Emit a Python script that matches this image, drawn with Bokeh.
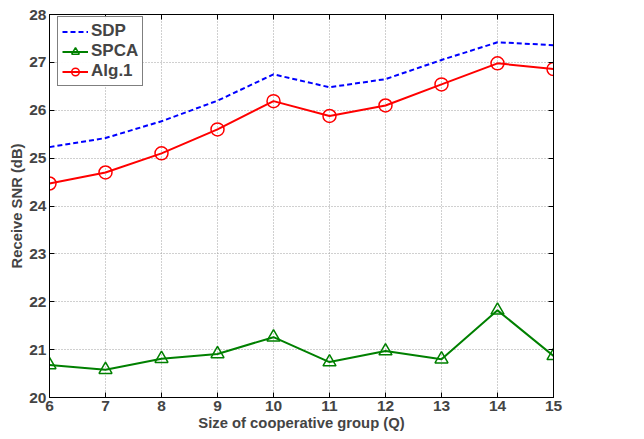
from bokeh.plotting import figure
from bokeh.models import LinearAxis, Range1d, FixedTicker, Legend, LegendItem
from bokeh.embed import file_html
from bokeh.resources import INLINE

Q = [6, 7, 8, 9, 10, 11, 12, 13, 14, 15]
sdp = [25.23, 25.42, 25.77, 26.2, 26.75, 26.48, 26.65, 27.05, 27.42, 27.36]
spca = [20.68, 20.58, 20.81, 20.91, 21.26, 20.74, 20.97, 20.80, 21.82, 20.87]
alg1 = [24.47, 24.70, 25.10, 25.60, 26.19, 25.88, 26.10, 26.54, 26.98, 26.86]
xticks = list(range(6, 16))
yticks = list(range(20, 29))

FONT = "Liberation Sans"

p = figure(width=572, height=431, output_backend="svg", toolbar_location=None,
           x_range=Range1d(6, 15), y_range=Range1d(20, 28),
           min_border_left=49, min_border_top=14, min_border_right=10, min_border_bottom=2)
p.frame_width = 504
p.frame_height = 383

p.outline_line_color = "black"
p.outline_line_width = 1

for ax in (p.xaxis[0], p.yaxis[0]):
    ax.major_label_text_font = FONT
    ax.major_label_text_font_style = "bold"
    ax.major_label_text_font_size = "15.5px"
    ax.axis_label_text_font = FONT
    ax.axis_label_text_font_style = "bold"
    ax.axis_label_text_font_size = "14.8px"
    ax.major_tick_in = 5
    ax.major_tick_out = 0
    ax.minor_tick_line_color = None
    ax.axis_line_color = "black"
    ax.major_label_standoff = 3
    ax.axis_label_standoff = 1

p.xaxis[0].ticker = FixedTicker(ticks=xticks)
p.yaxis[0].ticker = FixedTicker(ticks=yticks)
p.xaxis[0].axis_label = "Size of cooperative group (Q)"
p.yaxis[0].axis_label = "Receive SNR (dB)"

for loc, tk in (("right", yticks), ("above", xticks)):
    a = LinearAxis(ticker=FixedTicker(ticks=tk),
                   major_label_overrides={t: "" for t in tk},
                   major_label_standoff=0,
                   major_tick_in=5, major_tick_out=0, minor_tick_line_color=None)
    p.add_layout(a, loc)

p.xgrid.ticker = FixedTicker(ticks=xticks)
p.ygrid.ticker = FixedTicker(ticks=yticks)
for g in (p.xgrid[0], p.ygrid[0]):
    g.grid_line_color = "#a0a0a0"
    g.grid_line_dash = "1 2"
    g.grid_line_width = 1

r_sdp = p.line(Q, sdp, line_color="blue", line_dash="5 3", line_width=2)
r_spca_l = p.line(Q, spca, line_color="green", line_width=2)
r_spca_m = p.scatter(Q, spca, marker="triangle", size=13, fill_color=None,
                     line_color="green", line_width=1.5)
r_alg_l = p.line(Q, alg1, line_color="red", line_width=2)
r_alg_m = p.scatter(Q, alg1, marker="circle", size=13, fill_color=None,
                    line_color="red", line_width=1.5)

legend = Legend(items=[
    LegendItem(label="SDP", renderers=[r_sdp]),
    LegendItem(label="SPCA", renderers=[r_spca_l, r_spca_m]),
    LegendItem(label="Alg.1", renderers=[r_alg_l, r_alg_m]),
], location=(8, 311))
legend.label_text_font = FONT
legend.label_text_font_style = "bold"
legend.label_text_font_size = "17px"
legend.border_line_color = "black"
legend.border_line_width = 1.5
legend.margin = 0
legend.padding = 4
legend.spacing = 0
legend.glyph_width = 26
legend.glyph_height = 19
legend.label_standoff = 3
legend.label_height = 19
p.add_layout(legend)

open("out.html", "w").write(file_html(p, INLINE))
